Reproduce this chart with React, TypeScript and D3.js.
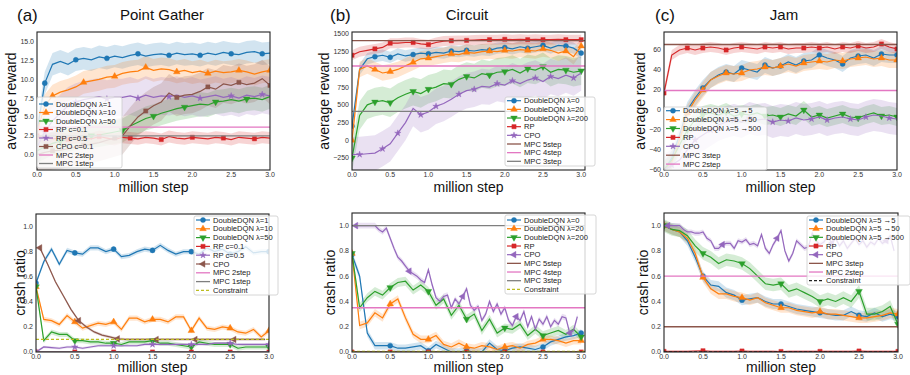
import React from "react";
import * as d3 from "d3";

const FONT = "'Liberation Sans', Arial, Helvetica, sans-serif";
const C = {
  blue: "#1f77b4", orange: "#ff7f0e", green: "#2ca02c", red: "#d62728", purple: "#9467bd",
  brown: "#8c564b", pink: "#e377c2", gray: "#7f7f7f", olive: "#bcbd22", black: "#222222",
};

// sample positions (million steps)
const steps = d3.range(31).map((i) => i / 10); // 0.0 .. 3.0
const oddSteps = d3.range(30).map((i) => i / 10 + 0.05); // 0.05 .. 2.95
const halfSteps = d3.range(59).map((i) => (i + 1) / 20); // 0.05 .. 2.95

const xTicks = [0, 0.5, 1, 1.5, 2, 2.5, 3];
const gatherTicks = [0, 2.5, 5, 7.5, 10, 12.5, 15];
const circuitTicks = [-250, 0, 250, 500, 750, 1000, 1250, 1500];
const jamTicks = [-60, -40, -20, 0, 20, 40, 60];
const crashTicks = [0, 0.2, 0.4, 0.6, 0.8, 1.0];

// (a) Point Gather - average reward
const gatherDqn1 = [3.0,9.5,12.0,12.4,12.0,12.6,12.8,12.6,13.0,12.8,13.1,12.9,13.2,13.4,13.1,13.3,13.4,13.2,13.5,13.3,13.4,13.2,13.5,13.3,13.6,13.4,13.3,13.6,13.7,13.4,13.5];
const gatherDqn10 = [3.0,6.5,7.8,8.3,8.6,9.0,9.6,9.8,10.0,10.3,10.4,10.8,11.0,11.1,11.6,11.2,11.4,11.3,11.0,11.2,10.9,11.1,10.8,11.1,10.9,11.0,11.2,11.0,10.7,11.0,11.2];
const gatherDqn50 = [0.5,1.0,1.5,1.8,2.0,2.2,2.3,2.5,2.6,2.8,3.0,3.2,3.8,4.3,4.8,5.1,5.5,5.8,6.1,6.3,6.5,6.7,6.6,7.0,7.1,7.3,7.1,7.4,7.5,7.3,7.7];
const gatherRp01 = [2.5,2.3,2.1,2.2,2.0,2.3,2.2,2.1,2.4,2.2,2.0,2.3,2.2,2.1,2.3,2.2,2.0,2.4,2.2,2.1,2.3,2.2,2.1,2.3,2.2,2.0,2.3,2.2,2.1,2.3,2.2];
const gatherRp05 = [1.0,3.0,4.5,5.5,6.5,7.0,7.3,7.5,7.7,7.4,7.6,7.6,7.8,7.5,7.9,7.6,7.8,7.7,7.9,7.6,7.8,7.5,7.7,7.9,7.6,7.8,7.5,7.9,7.7,8.0,7.8];
const gatherCpo = [0.0,0.3,0.5,0.6,0.8,1.0,1.2,1.4,1.6,1.9,2.2,2.5,3.8,5.0,5.8,6.5,7.0,8.2,7.6,7.9,8.0,8.4,9.0,8.7,9.4,9.2,9.6,9.3,9.5,10.1,9.2];

// (b) Circuit - average reward
const circuitDqn0 = [200,1000,1150,1180,1200,1170,1220,1190,1210,1230,1220,1240,1230,1260,1250,1270,1260,1280,1270,1300,1310,1290,1320,1300,1320,1340,1300,1340,1330,1300,1230];
const circuitDqn20 = [0,1000,1050,1000,950,970,1000,1050,1100,1150,1160,1180,1200,1220,1210,1240,1230,1250,1260,1250,1270,1260,1280,1270,1260,1290,1270,1230,1260,1180,1330];
const circuitDqn200 = [-250,350,500,540,560,530,600,650,690,660,720,750,800,790,860,900,880,940,920,960,970,1000,950,1010,990,1040,960,1000,990,960,980];
const circuitRp = [1200,1250,1270,1290,1310,1370,1370,1380,1380,1360,1350,1380,1400,1405,1410,1410,1415,1420,1420,1420,1425,1420,1425,1420,1425,1420,1420,1425,1420,1420,1420];
const circuitCpo = [-200,-200,-190,-180,-120,-50,100,250,450,360,400,480,520,580,650,700,720,760,750,800,780,840,800,850,880,830,900,870,920,880,950];

// (c) Jam - average reward
const jamDqn5 = [-60,-48,-25,0,12,22,30,35,38,36,42,40,38,45,42,44,48,45,49,50,55,52,50,46,52,54,55,52,56,55,55];
const jamDqn50 = [-60,-52,-30,-3,10,20,30,34,37,36,37,40,41,43,42,44,46,44,47,48,49,48,50,49,51,52,53,51,52,50,50];
const jamDqn500 = [-60,-50,-35,-20,-10,-5,-3,-5,-2,-6,-4,-5,-3,-6,-5,-7,-4,-6,0,-7,-5,-8,-6,-4,-7,-8,-5,-3,-6,-5,-7];
const jamRp = [17,55,60,62,60,62,63,62,60,62,63,62,61,63,62,63,61,62,62,63,62,63,61,63,62,64,62,63,66,63,61];
const jamCpo = [-60,-55,-50,-40,-30,-25,-20,-15,-12,-10,-12,-8,-10,-9,-12,-10,-11,-8,-10,-9,-7,-10,-8,-7,-9,-10,-7,-5,-6,-8,-9];

// (a) Point Gather - crash ratio
const crashGatherDqn1 = [0.55,0.72,0.82,0.70,0.81,0.79,0.78,0.83,0.83,0.80,0.82,0.76,0.77,0.80,0.82,0.81,0.85,0.81,0.78,0.80,0.80,0.78,0.83,0.80,0.82,0.78,0.80,0.84,0.79,0.80,0.80];
const crashGatherDqn10 = [0.52,0.26,0.25,0.22,0.29,0.24,0.19,0.21,0.23,0.22,0.24,0.18,0.27,0.27,0.24,0.26,0.26,0.24,0.28,0.28,0.17,0.27,0.19,0.18,0.20,0.19,0.16,0.15,0.18,0.12,0.17];
const crashGatherDqn50 = [0.52,0.09,0.16,0.14,0.14,0.09,0.09,0.08,0.08,0.07,0.07,0.06,0.08,0.08,0.08,0.09,0.07,0.07,0.06,0.05,0.04,0.08,0.07,0.06,0.06,0.06,0.03,0.04,0.04,0.04,0.04];
const crashGatherRp01 = [0,0,0,0,0,0,0,0,0,0,0,0,0,0,0,0,0,0,0,0,0,0,0,0,0,0,0,0,0,0,0];
const crashGatherRp05 = [0.0,0.04,0.035,0.03,0.04,0.04,0.03,0.04,0.05,0.05,0.05,0.05,0.05,0.05,0.06,0.06,0.06,0.06,0.06,0.06,0.06,0.06,0.06,0.07,0.07,0.07,0.06,0.06,0.06,0.06,0.06];
const crashGatherCpo = [0.83,0.70,0.56,0.45,0.34,0.25,0.20,0.16,0.135,0.12,0.105,0.10,0.10,0.10,0.10,0.10,0.10,0.10,0.10,0.10,0.10,0.10,0.10,0.10,0.10,0.10,0.10,0.10,0.10,0.10];

// (b) Circuit - crash ratio
const crashCircuitDqn0 = [0.77,0.60,0.15,0.05,0.05,0.05,0.03,0.03,0.04,0.05,0.01,0.06,0.03,0.00,0.00,0.01,0.00,0.00,0.07,0.02,0.01,0.03,0.04,0.03,0.02,0.04,0.08,0.10,0.12,0.13,0.15];
const crashCircuitDqn20 = [0.78,0.21,0.23,0.31,0.27,0.38,0.42,0.27,0.14,0.10,0.10,0.13,0.06,0.04,0.07,0.04,0.03,0.05,0.04,0.02,0.04,0.05,0.03,0.06,0.07,0.10,0.10,0.09,0.07,0.09,0.09];
const crashCircuitDqn200 = [0.78,0.35,0.43,0.48,0.45,0.51,0.55,0.56,0.49,0.53,0.48,0.37,0.42,0.29,0.37,0.26,0.30,0.17,0.26,0.15,0.19,0.18,0.22,0.13,0.18,0.13,0.15,0.17,0.14,0.18,0.12];
const crashCircuitRp = [0,0,0,0,0,0,0,0,0,0,0,0,0,0,0,0,0,0,0,0,0,0,0,0,0,0,0,0,0,0,0];
const crashCircuitCpo = [
  1.0,1.0,1.0,1.0,1.0,1.0,0.97,0.95,0.98,0.90,
  0.82,0.75,0.72,0.68,0.64,0.62,0.60,0.57,0.55,0.65,
  0.53,0.43,0.40,0.44,0.45,0.35,0.42,0.38,0.44,0.50,
  0.37,0.33,0.36,0.25,0.30,0.40,0.32,0.38,0.30,0.35,
  0.25,0.21,0.28,0.25,0.32,0.20,0.28,0.18,0.26,0.22,
  0.28,0.20,0.25,0.22,0.28,0.27,0.15,0.17,0.28,
];

// (c) Jam - crash ratio
const crashJamDqn5 = [1.0,0.97,0.95,0.88,0.75,0.60,0.53,0.52,0.47,0.45,0.41,0.42,0.43,0.40,0.38,0.38,0.36,0.34,0.33,0.32,0.31,0.30,0.29,0.29,0.32,0.29,0.28,0.31,0.28,0.30,0.28];
const crashJamDqn50 = [1.0,0.97,0.95,0.90,0.78,0.59,0.50,0.46,0.46,0.44,0.43,0.41,0.43,0.39,0.37,0.35,0.35,0.33,0.32,0.31,0.32,0.30,0.30,0.29,0.28,0.27,0.27,0.28,0.29,0.31,0.30];
const crashJamDqn500 = [1.0,0.97,0.96,0.92,0.84,0.78,0.75,0.70,0.73,0.72,0.70,0.66,0.60,0.54,0.53,0.54,0.48,0.50,0.47,0.44,0.40,0.42,0.40,0.43,0.40,0.48,0.30,0.30,0.32,0.36,0.22];
const crashJamRp = [0.005,0.005,0.005,0.005,0.008,0.01,0.006,0.005,0.005,0.005,0.008,0.006,0.005,0.005,0.005,0.004,0.005,0.005,0.005,0.005,0.005,0.005,0.005,0.005,0.005,0.008,0.005,0.005,0.005,0.005,0.005];
const crashJamCpo = [
  1.0,1.0,1.0,1.0,0.97,0.95,0.95,0.94,0.94,0.95,
  0.90,0.88,0.82,0.82,0.85,0.86,0.86,0.82,0.88,0.87,
  0.89,0.85,0.86,0.84,0.93,0.82,0.78,0.85,0.90,0.96,
  0.80,0.72,0.78,0.88,0.85,0.82,0.83,0.94,0.88,0.85,
  0.87,0.92,0.86,0.90,0.84,0.88,0.82,0.86,0.90,0.85,
  0.88,0.83,0.87,0.85,0.90,0.86,0.88,0.92,0.80,
];

type Mk = "o" | "^" | "v" | "s" | "*" | "<";
interface Series { label: string; color: string; marker: Mk; xs: number[]; ys: number[]; spread: number; every: number; offset?: number; }
interface HLine { label: string; color: string; value: number; dash?: string; }
interface Cfg {
  id: string;
  box: { x: number; y: number; w: number; h: number };
  xDomain: [number, number];
  yDomain: [number, number];
  yTicks: number[];
  yFmt: (v: number) => string;
  ylabel: string;
  ylabelX: number;
  xlabelY: number;
  series: Series[];
  hlines: HLine[];
  legend: { x: number; y: number; w: number; h: number; first: number; row: number };
  tag?: string;
  tagX?: number;
  title?: string;
  titleX?: number;
}

const symbolOf: Record<Mk, d3.SymbolType> = {
  o: d3.symbolCircle, "^": d3.symbolTriangle, v: d3.symbolTriangle, s: d3.symbolSquare, "*": d3.symbolStar, "<": d3.symbolTriangle,
};
const rotOf: Record<Mk, number> = { o: 0, "^": 0, v: 180, s: 0, "*": 0, "<": -90 };
const sizeOf: Record<Mk, number> = { o: 20, "^": 19, v: 19, s: 18, "*": 13, "<": 19 };

function Marker({ kind, x, y, color }: { kind: Mk; x: number; y: number; color: string }) {
  const d = d3.symbol().type(symbolOf[kind]).size(sizeOf[kind])() as string;
  return <path d={d} transform={`translate(${x},${y}) rotate(${rotOf[kind]})`} fill={color} stroke={color} strokeWidth={0.4} />;
}

const f1 = d3.format(".1f");
const fInt = d3.format("d");

function Panel({ c }: { c: Cfg }) {
  const { box } = c;
  const x = d3.scaleLinear().domain(c.xDomain).range([box.x, box.x + box.w]);
  const y = d3.scaleLinear().domain(c.yDomain).range([box.y + box.h, box.y]);
  const line = d3.line<[number, number]>().x((d) => x(d[0])).y((d) => y(d[1]));
  const clip = `clip-${c.id}`;
  const lg = c.legend;
  const entries: { label: string; color: string; marker?: Mk; dash?: string }[] = [
    ...c.series.map((s) => ({ label: s.label, color: s.color, marker: s.marker })),
    ...c.hlines.map((h) => ({ label: h.label, color: h.color, dash: h.dash })),
  ];
  return (
    <g>
      <defs>
        <clipPath id={clip}>
          <rect x={box.x} y={box.y} width={box.w} height={box.h} />
        </clipPath>
      </defs>
      <g clipPath={`url(#${clip})`}>
        {c.series.map((s) => {
          const pts = d3.zip(s.xs, s.ys) as [number, number][];
          const area = d3.area<[number, number]>()
            .x((d) => x(d[0]))
            .y0((d) => y(d[1] - s.spread))
            .y1((d) => y(d[1] + s.spread));
          return <path key={"b" + s.label} d={area(pts) as string} fill={s.color} opacity={0.2} />;
        })}
        {c.series.map((s) => {
          const pts = d3.zip(s.xs, s.ys) as [number, number][];
          const idx: number[] = [];
          for (let k = 0; ; k++) {
            const i = Math.round((s.offset ?? 0) + k * s.every);
            if (i >= pts.length) break;
            idx.push(i);
          }
          return (
            <g key={"l" + s.label}>
              <path d={line(pts) as string} fill="none" stroke={s.color} strokeWidth={1.2} />
              {idx.map((i) => (
                <Marker key={i} kind={s.marker} x={x(pts[i][0])} y={y(pts[i][1])} color={s.color} />
              ))}
            </g>
          );
        })}
        {c.hlines.map((h) => (
          <line key={h.label} x1={box.x} x2={box.x + box.w} y1={y(h.value)} y2={y(h.value)}
            stroke={h.color} strokeWidth={1.3} strokeDasharray={h.dash} />
        ))}
      </g>
      <rect x={box.x} y={box.y} width={box.w} height={box.h} fill="none" stroke="#222" strokeWidth={1.1} />
      {xTicks.map((t) => (
        <text key={"x" + t} x={x(t)} y={box.y + box.h + 7} fontSize={7} textAnchor="middle" fill="#333">{f1(t)}</text>
      ))}
      {c.yTicks.map((t) => (
        <text key={"y" + t} x={box.x - 3} y={y(t)} dy="0.35em" fontSize={7} textAnchor="end" fill="#333">{c.yFmt(t)}</text>
      ))}
      <text x={box.x + box.w / 2} y={c.xlabelY} fontSize={14} textAnchor="middle" fill="#111">million step</text>
      <text transform={`translate(${c.ylabelX},${box.y + box.h / 2}) rotate(-90)`} fontSize={14} textAnchor="middle" fill="#111">{c.ylabel}</text>
      {c.tag && <text x={c.tagX} y={21} fontSize={17} fill="#111">{c.tag}</text>}
      {c.title && <text x={c.titleX} y={20} fontSize={15} textAnchor="middle" fill="#111">{c.title}</text>}
      <rect x={lg.x} y={lg.y} width={lg.w} height={lg.h} fill="#fff" fillOpacity={0.8} stroke="#ccc" strokeWidth={0.8} rx={2} />
      {entries.map((e, i) => {
        const yy = lg.first + i * lg.row;
        return (
          <g key={"g" + e.label}>
            <line x1={lg.x + 2} x2={lg.x + 16} y1={yy} y2={yy} stroke={e.color} strokeWidth={e.marker ? 1.2 : 1.3} strokeDasharray={e.dash} />
            {e.marker && <Marker kind={e.marker} x={lg.x + 9} y={yy} color={e.color} />}
            <text x={lg.x + 19} y={yy} dy="0.35em" fontSize={7.6} fill="#222">{e.label}</text>
          </g>
        );
      })}
    </g>
  );
}

const panels: Cfg[] = [
  {
    id: "a1", box: { x: 37, y: 32, w: 233, h: 138 }, xDomain: [0, 3], yDomain: [-2.05, 16.3],
    yTicks: gatherTicks, yFmt: f1, ylabel: "average reward", ylabelX: 15.5, xlabelY: 192,
    tag: "(a)", tagX: 17, title: "Point Gather", titleX: 162,
    legend: { x: 37, y: 97, w: 85, h: 71, first: 104, row: 8.5 },
    series: [
      { label: "DoubleDQN λ=1", color: C.blue, marker: "o", xs: steps, ys: gatherDqn1, spread: 1.5, every: 4, offset: 1 },
      { label: "DoubleDQN λ=10", color: C.orange, marker: "^", xs: steps, ys: gatherDqn10, spread: 1.5, every: 4, offset: 2 },
      { label: "DoubleDQN λ=50", color: C.green, marker: "v", xs: steps, ys: gatherDqn50, spread: 1.6, every: 4, offset: 3 },
      { label: "RP c=0.1", color: C.red, marker: "s", xs: steps, ys: gatherRp01, spread: 0.8, every: 4, offset: 0 },
      { label: "RP c=0.5", color: C.purple, marker: "*", xs: steps, ys: gatherRp05, spread: 2.5, every: 4, offset: 1 },
      { label: "CPO c=0.1", color: C.brown, marker: "s", xs: steps, ys: gatherCpo, spread: 2.5, every: 4, offset: 2 },
    ],
    hlines: [
      { label: "MPC 2step", color: C.pink, value: 3.65 },
      { label: "MPC 1step", color: C.gray, value: 2.5 },
    ],
  },
  {
    id: "b1", box: { x: 352, y: 32, w: 233, h: 138 }, xDomain: [0, 3.05], yDomain: [-419, 1528],
    yTicks: circuitTicks, yFmt: fInt, ylabel: "average reward", ylabelX: 329, xlabelY: 192,
    tag: "(b)", tagX: 330, title: "Circuit", titleX: 467,
    legend: { x: 505, y: 97, w: 90, h: 69, first: 100.7, row: 8.66 },
    series: [
      { label: "DoubleDQN λ=0", color: C.blue, marker: "o", xs: steps, ys: circuitDqn0, spread: 80, every: 2.5, offset: 0 },
      { label: "DoubleDQN λ=20", color: C.orange, marker: "^", xs: steps, ys: circuitDqn20, spread: 110, every: 2.5, offset: 0 },
      { label: "DoubleDQN λ=200", color: C.green, marker: "v", xs: steps, ys: circuitDqn200, spread: 200, every: 2.5, offset: 0 },
      { label: "RP", color: C.red, marker: "s", xs: steps, ys: circuitRp, spread: 70, every: 2.5, offset: 0 },
      { label: "CPO", color: C.purple, marker: "*", xs: steps, ys: circuitCpo, spread: 250, every: 2.5, offset: 1 },
    ],
    hlines: [
      { label: "MPC 5step", color: C.brown, value: 1405 },
      { label: "MPC 4step", color: C.pink, value: 1048 },
      { label: "MPC 3step", color: C.gray, value: 408 },
    ],
  },
  {
    id: "c1", box: { x: 664, y: 32, w: 233, h: 138 }, xDomain: [0, 3], yDomain: [-60, 78],
    yTicks: jamTicks, yFmt: fInt, ylabel: "average reward", ylabelX: 645, xlabelY: 192,
    tag: "(c)", tagX: 655, title: "Jam", titleX: 784,
    legend: { x: 664, y: 107, w: 103, h: 63, first: 110.7, row: 8.9 },
    series: [
      { label: "DoubleDQN λ=5 →5", color: C.blue, marker: "o", xs: steps, ys: jamDqn5, spread: 8, every: 2.5, offset: 0 },
      { label: "DoubleDQN λ=5 →50", color: C.orange, marker: "^", xs: steps, ys: jamDqn50, spread: 8, every: 2.5, offset: 0 },
      { label: "DoubleDQN λ=5 →500", color: C.green, marker: "v", xs: steps, ys: jamDqn500, spread: 9, every: 2.5, offset: 0 },
      { label: "RP", color: C.red, marker: "s", xs: steps, ys: jamRp, spread: 5, every: 2.5, offset: 0 },
      { label: "CPO", color: C.purple, marker: "*", xs: steps, ys: jamCpo, spread: 16, every: 2.5, offset: 1 },
    ],
    hlines: [
      { label: "MPC 3step", color: C.brown, value: 65.5 },
      { label: "MPC 2step", color: C.pink, value: 19.5 },
    ],
  },
  {
    id: "a2", box: { x: 36, y: 214, w: 233, h: 138 }, xDomain: [0, 3], yDomain: [0, 1.1],
    yTicks: crashTicks, yFmt: f1, ylabel: "crash ratio", ylabelX: 25, xlabelY: 372,
    legend: { x: 194, y: 216, w: 84, h: 79, first: 220, row: 8.8 },
    series: [
      { label: "DoubleDQN λ=1", color: C.blue, marker: "o", xs: steps, ys: crashGatherDqn1, spread: 0.02, every: 5 },
      { label: "DoubleDQN λ=10", color: C.orange, marker: "^", xs: steps, ys: crashGatherDqn10, spread: 0.02, every: 5 },
      { label: "DoubleDQN λ=50", color: C.green, marker: "v", xs: steps, ys: crashGatherDqn50, spread: 0.02, every: 5 },
      { label: "RP c=0.1", color: C.red, marker: "s", xs: steps, ys: crashGatherRp01, spread: 0.003, every: 5 },
      { label: "RP c=0.5", color: C.purple, marker: "*", xs: steps, ys: crashGatherRp05, spread: 0.01, every: 5 },
      { label: "CPO", color: C.brown, marker: "<", xs: oddSteps, ys: crashGatherCpo, spread: 0.012, every: 5 },
    ],
    hlines: [
      { label: "MPC 2step", color: C.pink, value: 0 },
      { label: "MPC 1step", color: C.gray, value: 0 },
      { label: "Constraint", color: C.olive, value: 0.1, dash: "3,2" },
    ],
  },
  {
    id: "b2", box: { x: 352, y: 213, w: 233, h: 139 }, xDomain: [0, 3.05], yDomain: [0, 1.1],
    yTicks: crashTicks, yFmt: f1, ylabel: "crash ratio", ylabelX: 335, xlabelY: 372,
    legend: { x: 505, y: 215, w: 91, h: 79, first: 220, row: 8.67 },
    series: [
      { label: "DoubleDQN λ=0", color: C.blue, marker: "o", xs: steps, ys: crashCircuitDqn0, spread: 0.03, every: 5 },
      { label: "DoubleDQN λ=20", color: C.orange, marker: "^", xs: steps, ys: crashCircuitDqn20, spread: 0.03, every: 5 },
      { label: "DoubleDQN λ=200", color: C.green, marker: "v", xs: steps, ys: crashCircuitDqn200, spread: 0.035, every: 5 },
      { label: "RP", color: C.red, marker: "s", xs: steps, ys: crashCircuitRp, spread: 0.003, every: 5 },
      { label: "CPO", color: C.purple, marker: "<", xs: halfSteps, ys: crashCircuitCpo, spread: 0.022, every: 14 },
    ],
    hlines: [
      { label: "MPC 5step", color: C.brown, value: 0 },
      { label: "MPC 4step", color: C.pink, value: 0.35 },
      { label: "MPC 3step", color: C.gray, value: 1.0 },
      { label: "Constraint", color: C.olive, value: 0.005, dash: "3,2" },
    ],
  },
  {
    id: "c2", box: { x: 664, y: 213, w: 234, h: 139 }, xDomain: [0, 3], yDomain: [0, 1.1],
    yTicks: crashTicks, yFmt: f1, ylabel: "crash ratio", ylabelX: 648, xlabelY: 372,
    legend: { x: 807, y: 216, w: 103, h: 69, first: 220, row: 8.67 },
    series: [
      { label: "DoubleDQN λ=5 →5", color: C.blue, marker: "o", xs: steps, ys: crashJamDqn5, spread: 0.04, every: 5 },
      { label: "DoubleDQN λ=5 →50", color: C.orange, marker: "^", xs: steps, ys: crashJamDqn50, spread: 0.04, every: 5 },
      { label: "DoubleDQN λ=5 →500", color: C.green, marker: "v", xs: steps, ys: crashJamDqn500, spread: 0.05, every: 5 },
      { label: "RP", color: C.red, marker: "s", xs: steps, ys: crashJamRp, spread: 0.004, every: 5 },
      { label: "CPO", color: C.purple, marker: "<", xs: halfSteps, ys: crashJamCpo, spread: 0.02, every: 14 },
    ],
    hlines: [
      { label: "MPC 3step", color: C.brown, value: 0.2 },
      { label: "MPC 2step", color: C.pink, value: 0.6 },
      { label: "Constraint", color: C.black, value: 0.0, dash: "3,2" },
    ],
  },
];

export default function App() {
  return (
    <svg width={910} height={375} style={{ position: "absolute", left: 0, top: 0, background: "#fff", fontFamily: FONT }}>
      <rect width={910} height={375} fill="#fff" />
      {panels.map((p) => (
        <Panel key={p.id} c={p} />
      ))}
    </svg>
  );
}
